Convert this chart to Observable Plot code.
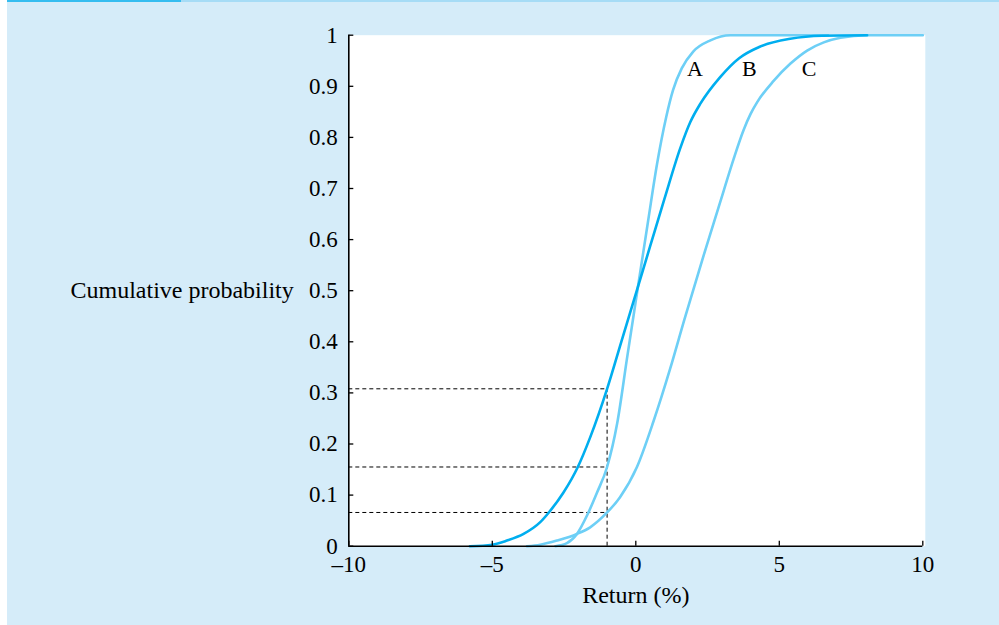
<!DOCTYPE html>
<html><head><meta charset="utf-8">
<script src="https://cdn.jsdelivr.net/npm/d3@7"></script>
<script src="https://cdn.jsdelivr.net/npm/@observablehq/plot@0.6"></script>
<style>
html,body{margin:0;padding:0;background:#fff;}
#wrap{position:absolute;left:7px;top:0;width:992px;height:625px;background:#d5ecf9;overflow:hidden;}
#topA{position:absolute;left:0;top:0;width:174px;height:2px;background:#35bdf0;}
#topB{position:absolute;left:174px;top:0;width:818px;height:2px;background:#a6dcf6;}
#chart{position:absolute;left:0;top:0;}
</style></head>
<body><div id="wrap"><div id="chart"></div><div id="topA"></div><div id="topB"></div></div>
<script>
// Curve A (light blue)
const aX = [-2.8, -2.4, -2.05, -1.7, -1.35, -1, -0.65, -0.3, 0, 0.43, 0.74, 1.06, 1.3, 1.6, 2.0, 2.6, 3.3, 6.7];
const aY = [0, 0.006, 0.024, 0.06, 0.105, 0.155, 0.24, 0.37, 0.48, 0.637, 0.748, 0.84, 0.893, 0.935, 0.968, 0.99, 1, 1];
// Curve B (dark blue)
const bX = [-5.78, -5, -4.49, -3.91, -3.33, -3.03, -2.52, -2.02, -1.59, -1, -0.5, 0, 0.5, 1.0, 1.55, 1.9, 2.25, 2.94, 3.6, 4.3, 5.38, 6.5, 8.06];
const bY = [0, 0.003, 0.011, 0.024, 0.047, 0.066, 0.105, 0.155, 0.213, 0.308, 0.401, 0.494, 0.587, 0.68, 0.779, 0.83, 0.866, 0.918, 0.955, 0.977, 0.993, 0.999, 1];
// Curve C (light blue)
const cX = [-3.79, -3.33, -2.75, -2.05, -1.59, -1, -0.55, 0.04, 0.62, 1.2, 1.7, 2.37, 3.07, 3.41, 3.76, 4.0, 4.23, 4.81, 5.38, 5.97, 6.55, 7.13, 8.06, 10];
const cY = [0, 0.003, 0.011, 0.024, 0.037, 0.066, 0.096, 0.155, 0.245, 0.348, 0.445, 0.57, 0.697, 0.758, 0.815, 0.846, 0.869, 0.911, 0.944, 0.970, 0.986, 0.995, 1, 1];

// Curve labels
const labelText = ["A", "B", "C"];
const labelX = [2.06, 3.96, 6.04];
const labelY = [0.933, 0.933, 0.933];

// Dashed guides
const guideX = -1;
const guideY = [0.308, 0.155, 0.066];

// Ticks
const xTicks = [-10, -5, 0, 5, 10];
const xTickLabels = ["\u201310", "\u20135", "0", "5", "10"];
const yTicks = [0, 0.1, 0.2, 0.3, 0.4, 0.5, 0.6, 0.7, 0.8, 0.9, 1];
const yTickLabels = ["0", "0.1", "0.2", "0.3", "0.4", "0.5", "0.6", "0.7", "0.8", "0.9", "1"];

const xTitle = "Return (%)";
const yTitle = "Cumulative probability";

const toPts = (xs, ys) => xs.map((x, i) => ({x, y: ys[i]}));
const A = toPts(aX, aY), B = toPts(bX, bY), C = toPts(cX, cY);
const labels = labelText.map((t, i) => ({t, x: labelX[i], y: labelY[i]}));
const xLab = xTicks.map((t, i) => ({v: t, t: xTickLabels[i]}));
const yLab = yTicks.map((t, i) => ({v: t, t: yTickLabels[i]}));

const light = "#6dcff6", dark = "#00aeef";
const font = "Liberation Serif, 'Times New Roman', serif";

const chart = Plot.plot({
  width: 992,
  height: 625,
  marginLeft: 341.3,
  marginRight: 76.7,
  marginTop: 34.7,
  marginBottom: 79.3,
  style: {background: "transparent", fontFamily: font, fontSize: "23px", color: "black", overflow: "visible"},
  x: {domain: [-10, 10], axis: null},
  y: {domain: [0, 1], axis: null},
  marks: [
    Plot.frame({fill: "white", stroke: null, insetRight: -2.5}),
    Plot.ruleY(guideY, {x1: -10, x2: guideX, stroke: "black", strokeWidth: 1, strokeDasharray: "4,3"}),
    Plot.ruleX([guideX], {y1: 0, y2: d3.max(guideY), stroke: "black", strokeWidth: 1, strokeDasharray: "4,3"}),
    Plot.line(C, {x: "x", y: "y", stroke: light, strokeWidth: 2.6, curve: "monotone-x"}),
    Plot.line(A, {x: "x", y: "y", stroke: light, strokeWidth: 2.6, curve: "monotone-x"}),
    Plot.line(B, {x: "x", y: "y", stroke: dark, strokeWidth: 2.6, curve: "monotone-x"}),
    Plot.ruleX([-10], {stroke: "black", strokeWidth: 1.6}),
    Plot.ruleY([0], {stroke: "black", strokeWidth: 1.6}),
    Plot.axisX({ticks: xTicks, tickSize: -5, text: null, strokeWidth: 1.3, label: null}),
    Plot.axisY({ticks: yTicks, tickSize: -5, text: null, strokeWidth: 1.3, label: null}),
    Plot.text(xLab, {x: "v", y: 0, text: "t", dy: 18, fontSize: 23}),
    Plot.text(yLab, {x: -10, y: "v", text: "t", dx: -11, textAnchor: "end", fontSize: 23}),
    Plot.text(labels, {x: "x", y: "y", text: "t", fontSize: 22}),
    Plot.text([yTitle], {x: -10, y: 0.5, dx: -55, textAnchor: "end", fontSize: 24}),
    Plot.text([xTitle], {x: 0, y: 0, dy: 49, fontSize: 24})
  ]
});
document.getElementById("chart").appendChild(chart);
</script>
</body></html>
